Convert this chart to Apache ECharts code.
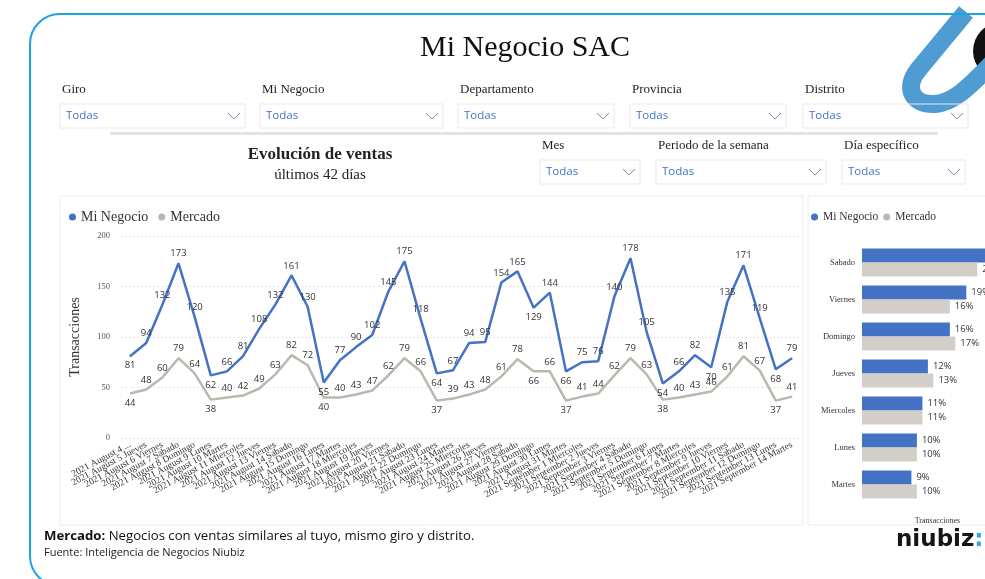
<!DOCTYPE html>
<html>
<head>
<meta charset="utf-8">
<script src="https://cdn.jsdelivr.net/npm/echarts@6/dist/echarts.min.js"></script>
<style>
html, body { margin: 0; padding: 0; background: #fff; overflow: hidden; }
#chart { width: 985px; height: 579px; }
</style>
</head>
<body>
<div id="chart"></div>
<script>
// ultimos 42 dias
const days = [
    '2021 August 4 Miercoles', '2021 August 5 Jueves', '2021 August 6 Viernes', '2021 August 7 Sabado',
    '2021 August 8 Domingo', '2021 August 9 Lunes', '2021 August 10 Martes', '2021 August 11 Miercoles',
    '2021 August 12 Jueves', '2021 August 13 Viernes', '2021 August 14 Sabado', '2021 August 15 Domingo',
    '2021 August 16 Lunes', '2021 August 17 Martes', '2021 August 18 Miercoles', '2021 August 19 Jueves',
    '2021 August 20 Viernes', '2021 August 21 Sabado', '2021 August 22 Domingo', '2021 August 23 Lunes',
    '2021 August 24 Martes', '2021 August 25 Miercoles', '2021 August 26 Jueves', '2021 August 27 Viernes',
    '2021 August 28 Sabado', '2021 August 29 Domingo', '2021 August 30 Lunes', '2021 August 31 Martes',
    '2021 September 1 Miercoles', '2021 September 2 Jueves', '2021 September 3 Viernes', '2021 September 4 Sabado',
    '2021 September 5 Domingo', '2021 September 6 Lunes', '2021 September 7 Martes', '2021 September 8 Miercoles',
    '2021 September 9 Jueves', '2021 September 10 Viernes', '2021 September 11 Sabado', '2021 September 12 Domingo',
    '2021 September 13 Lunes', '2021 September 14 Martes'
]
const miNegocio = [
    81, 94, 132, 173, 120, 62, 66, 81, 108, 132, 161, 130, 55, 77,
    90, 102, 145, 175, 118, 64, 67, 94, 95, 154, 165, 129, 144, 66,
    75, 76, 140, 178, 105, 54, 66, 82, 70, 135, 171, 119, 68, 79
]
const mercado = [
    44, 48, 60, 79, 64, 38, 40, 42, 49, 63, 82, 72, 40, 40,
    43, 47, 62, 79, 66, 37, 39, 43, 48, 61, 78, 66, 66, 37,
    41, 44, 62, 79, 63, 38, 40, 43, 46, 61, 81, 67, 37, 41
]

// distribucion por dia de la semana (%)
const weekdays = ['Sabado', 'Viernes', 'Domingo', 'Jueves', 'Miercoles', 'Lunes', 'Martes']
const shareMiNegocio = [23, 19, 16, 12, 11, 10, 9]
const shareMercado = [21, 16, 17, 13, 11, 10, 10]

const filtersTop = ['Giro', 'Mi Negocio', 'Departamento', 'Provincia', 'Distrito']
const filtersMid = ['Mes', 'Periodo de la semana', 'Día específico']

const BLUE = '#4472C4'
const GRAY_LINE = '#BDB7AD'
const GRAY_BAR = '#D3CFC8'
const SERIF = 'Liberation Serif'
const SANS = 'Open Sans'
const LOGO_BLUE = '#4E9CD2'

// etiqueta abajo en los valles, arriba en el resto
function labelPos(arr, i) {
    let v = arr[i]
    let prev = i > 0 ? arr[i - 1] : Infinity
    let next = i < arr.length - 1 ? arr[i + 1] : Infinity
    return (v < prev && v <= next) ? 'bottom' : 'top'
}

function dropdown(label, x, y, w) {
    return [
        { type: 'text', x: x + 2, y: y - 14, style: { text: label, fontFamily: SERIF, fontSize: 13, fill: '#252423', verticalAlign: 'middle' } },
        { type: 'rect', shape: { x: x, y: y, width: w, height: 24 }, style: { fill: 'rgba(255,255,255,0)', stroke: '#E9E9E9', lineWidth: 1 } },
        { type: 'text', x: x + 6, y: y + 12, style: { text: 'Todas', fontFamily: SANS, fontSize: 11.5, fill: '#3E76C5', verticalAlign: 'middle' } },
        { type: 'polyline', shape: { points: [[x + w - 17, y + 9], [x + w - 11, y + 15], [x + w - 5, y + 9]] }, style: { stroke: '#7F93B8', lineWidth: 1, fill: null } }
    ]
}

let graphics = [
    // logo arriba a la derecha
    { type: 'circle', shape: { cx: 1002, cy: 51, r: 29 }, style: { fill: '#111' } },
    { type: 'line', shape: { x1: 966, y1: 12, x2: 918, y2: 70 }, style: { stroke: LOGO_BLUE, lineWidth: 18 } },
    { type: 'bezierCurve', shape: { x1: 918, y1: 70, cpx1: 904, cpy1: 88, cpx2: 912, cpy2: 105, x2: 935, y2: 104 }, style: { stroke: LOGO_BLUE, lineWidth: 18, lineCap: 'round', fill: null } },
    { type: 'bezierCurve', shape: { x1: 935, y1: 104, cpx1: 952, cpy1: 103, cpx2: 967, cpy2: 90, x2: 997, y2: 58 }, style: { stroke: LOGO_BLUE, lineWidth: 18, lineCap: 'round', fill: null } },
    // marco
    { type: 'rect', shape: { x: 30, y: 14, width: 1000, height: 572, r: 30 }, style: { fill: null, stroke: '#1BA3E3', lineWidth: 2 } },
    { type: 'text', x: 525, y: 48, style: { text: 'Mi Negocio SAC', fontFamily: SERIF, fontSize: 30, fill: '#111', align: 'center', verticalAlign: 'middle' } },
    { type: 'rect', shape: { x: 110, y: 132, width: 828, height: 3 }, style: { fill: '#E4E4DE' } },
    { type: 'text', x: 320, y: 155, style: { text: 'Evolución de ventas', fontFamily: SERIF, fontSize: 17, fontWeight: 'bold', fill: '#222', align: 'center', verticalAlign: 'middle' } },
    { type: 'text', x: 320, y: 175, style: { text: 'últimos 42 días', fontFamily: SERIF, fontSize: 15, fill: '#222', align: 'center', verticalAlign: 'middle' } },
    // paneles
    { type: 'rect', shape: { x: 60, y: 196, width: 743, height: 329 }, style: { fill: null, stroke: '#EDEDED', lineWidth: 1 } },
    { type: 'rect', shape: { x: 808, y: 196, width: 200, height: 329 }, style: { fill: null, stroke: '#EDEDED', lineWidth: 1 } },
    {
        type: 'text', x: 44, y: 536,
        style: {
            text: '{b|Mercado:} Negocios con ventas similares al tuyo, mismo giro y distrito.',
            fontFamily: SANS, fontSize: 13.2, fill: '#111', verticalAlign: 'middle',
            rich: { b: { fontFamily: SANS, fontSize: 13.2, fontWeight: 'bold', fill: '#111' } }
        }
    },
    { type: 'text', x: 44, y: 553, style: { text: 'Fuente: Inteligencia de Negocios Niubiz', fontFamily: SANS, fontSize: 11, fill: '#222', verticalAlign: 'middle' } },
    {
        type: 'text', x: 896, y: 540,
        style: {
            text: 'niubiz{c|:}', fontFamily: 'DejaVu Sans', fontSize: 23, fontWeight: 'bold', fill: '#151515', verticalAlign: 'middle',
            rich: { c: { fontFamily: 'DejaVu Sans', fontSize: 23, fontWeight: 'bold', fill: '#29A8E0' } }
        }
    }
]

let topX = [60, 260, 458, 630, 803]
let topW = [185, 183, 156, 156, 165]
filtersTop.forEach((name, i) => {
    graphics = graphics.concat(dropdown(name, topX[i], 104, topW[i]))
})
let midX = [540, 656, 842]
let midW = [100, 170, 123]
filtersMid.forEach((name, i) => {
    graphics = graphics.concat(dropdown(name, midX[i], 160, midW[i]))
})

let chart = echarts.init(document.getElementById('chart'))

let option = {
    animation: false,
    textStyle: { fontFamily: SERIF },
    legend: [{
        left: 64,
        top: 205,
        icon: 'circle',
        itemWidth: 7,
        itemHeight: 7,
        itemGap: 10,
        data: ['Mi Negocio', 'Mercado'],
        textStyle: { fontFamily: SERIF, fontSize: 14, color: '#333' }
    }, {
        left: 806,
        top: 206,
        icon: 'circle',
        itemWidth: 7,
        itemHeight: 7,
        itemGap: 5,
        data: ['Mi Negocio', 'Mercado'],
        textStyle: { fontFamily: SERIF, fontSize: 11.5, color: '#333' }
    }],
    grid: [{
        left: 122,
        right: 185,
        top: 236,
        bottom: 141
    }, {
        // la barra de Sabado se corta en el borde derecho
        left: 862,
        right: 0,
        top: 244,
        height: 259
    }],
    xAxis: [{
        type: 'category',
        gridIndex: 0,
        data: days,
        boundaryGap: true,
        axisLine: { show: false },
        axisTick: { show: false },
        axisLabel: {
            interval: 0,
            rotate: 28,
            margin: 6,
            fontFamily: SERIF,
            fontSize: 9.5,
            color: '#333',
            formatter: (val, idx) => idx === 0 ? '2021 August 4 ...' : val
        }
    }, {
        type: 'value',
        gridIndex: 1,
        min: 0,
        max: 22.4,
        axisLine: { show: false },
        axisTick: { show: false },
        axisLabel: { show: false },
        splitLine: { show: false },
        name: 'Transacciones',
        nameLocation: 'middle',
        nameGap: 14,
        nameTextStyle: { fontFamily: SERIF, fontSize: 8, color: '#333', padding: [0, 0, 0, 28] }
    }],
    yAxis: [{
        type: 'value',
        gridIndex: 0,
        min: 0,
        max: 200,
        interval: 50,
        name: 'Transacciones',
        nameLocation: 'middle',
        nameGap: 40,
        nameTextStyle: { fontFamily: SERIF, fontSize: 14, color: '#333' },
        axisLine: { show: false },
        axisTick: { show: false },
        axisLabel: { margin: 12, fontFamily: SERIF, fontSize: 8.5, color: '#555' },
        splitLine: { lineStyle: { type: [1, 3], color: '#CFCFCF' } }
    }, {
        type: 'category',
        gridIndex: 1,
        data: weekdays,
        inverse: true,
        axisLine: { show: false },
        axisTick: { show: false },
        axisLabel: { margin: 7, fontFamily: SERIF, fontSize: 8.5, color: '#333' }
    }],
    series: [{
        name: 'Mi Negocio',
        type: 'line',
        xAxisIndex: 0,
        yAxisIndex: 0,
        symbol: 'circle',
        symbolSize: 1,
        z: 3,
        lineStyle: { width: 2.5, color: BLUE },
        itemStyle: { color: BLUE },
        label: { show: true, fontFamily: SANS, fontSize: 9.5, color: '#333', distance: 4 },
        data: miNegocio.map((v, i) => ({ value: v, label: { position: labelPos(miNegocio, i) } }))
    }, {
        name: 'Mercado',
        type: 'line',
        xAxisIndex: 0,
        yAxisIndex: 0,
        symbol: 'circle',
        symbolSize: 1,
        lineStyle: { width: 2.5, color: GRAY_LINE },
        itemStyle: { color: GRAY_LINE },
        label: { show: true, fontFamily: SANS, fontSize: 9.5, color: '#333', distance: 4 },
        data: mercado.map((v, i) => ({ value: v, label: { position: labelPos(mercado, i) } }))
    }, {
        name: 'Mi Negocio',
        type: 'bar',
        xAxisIndex: 1,
        yAxisIndex: 1,
        barWidth: 14,
        barGap: '0%',
        itemStyle: { color: BLUE },
        label: { show: true, position: 'right', distance: 5, formatter: '{c}%', fontFamily: SANS, fontSize: 9.5, color: '#333' },
        data: shareMiNegocio
    }, {
        name: 'Mercado',
        type: 'bar',
        xAxisIndex: 1,
        yAxisIndex: 1,
        barWidth: 14,
        barGap: '0%',
        itemStyle: { color: GRAY_BAR },
        label: { show: true, position: 'right', distance: 5, formatter: '{c}%', fontFamily: SANS, fontSize: 9.5, color: '#333' },
        data: shareMercado
    }],
    graphic: graphics
}
chart.setOption(option)
</script>
</body>
</html>
